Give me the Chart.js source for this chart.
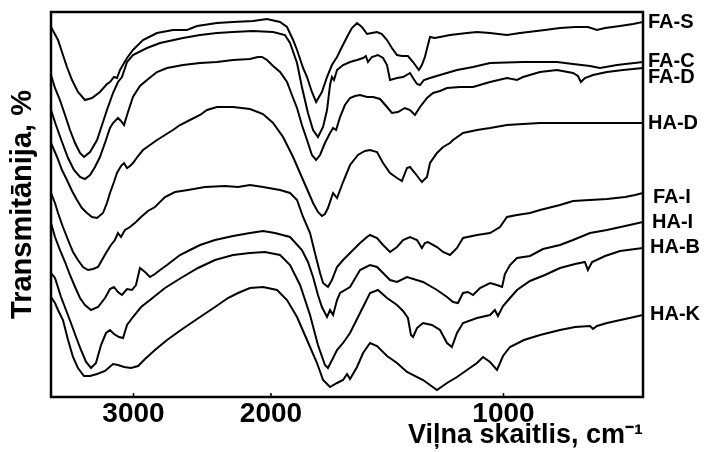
<!DOCTYPE html>
<html>
<head>
<meta charset="utf-8">
<title>IR spektri</title>
<script src="https://cdn.jsdelivr.net/npm/chart.js@4.4.1/dist/chart.umd.min.js"></script>
<style>
  body { margin: 0; background: #fff; }
  canvas { display: block; }
</style>
</head>
<body>
<canvas id="irChart" width="704" height="452"></canvas>
<script>
// spectra: [wavenumber cm-1, transmittance (arbitrary, stacked)]
const seriesNames = ["FA-S", "FA-C", "FA-D", "HA-D", "FA-I", "HA-I", "HA-B", "HA-K"];
const xTickValues = [3000, 2000, 1000];

const faS = [[3600,370],[3549,357],[3513,342],[3484,330],[3447,317],[3404,305],[3353,297],[3302,299],[3244,305],[3193,313],[3171,315],[3142,320],[3120,319],[3098,327],[3047,339],[3004,347],[2931,357],[2829,364],[2713,367],[2611,367],[2538,371],[2393,374],[2276,375],[2131,376],[2029,378],[1961,375],[1931,370],[1905,357],[1888,347],[1862,329],[1845,320],[1824,305],[1806,295],[1781,305],[1759,320],[1738,332],[1716,340],[1695,350],[1673,360],[1652,369],[1630,374],[1609,370],[1587,363],[1566,364],[1544,365],[1523,363],[1501,357],[1480,349],[1458,342],[1437,341],[1411,341],[1389,335],[1364,327],[1351,332],[1338,340],[1325,352],[1316,360],[1295,359],[1273,360],[1230,362],[1157,364],[1114,365],[1058,364],[985,362],[929,364],[822,367],[757,369],[692,370],[637,370],[598,367],[563,369],[499,371],[443,373],[400,375]];

const faC = [[3600,322],[3571,309],[3535,297],[3498,282],[3462,267],[3425,254],[3389,244],[3360,240],[3316,245],[3265,257],[3229,272],[3193,287],[3149,304],[3113,315],[3084,320],[3047,335],[3004,342],[2902,349],[2807,354],[2640,359],[2516,362],[2393,364],[2276,365],[2131,366],[1991,365],[1940,362],[1918,354],[1888,334],[1867,310],[1841,284],[1819,267],[1798,260],[1776,270],[1759,287],[1746,312],[1738,320],[1729,317],[1716,327],[1690,332],[1660,335],[1630,337],[1604,339],[1592,341],[1583,335],[1566,340],[1540,342],[1518,339],[1501,332],[1488,317],[1458,319],[1432,320],[1402,324],[1389,319],[1372,313],[1359,312],[1342,317],[1316,319],[1273,322],[1200,327],[1131,330],[1058,334],[916,335],[770,335],[701,333],[628,331],[585,329],[512,332],[400,335]];

const faD = [[3600,287],[3564,272],[3520,255],[3476,239],[3433,227],[3389,220],[3353,218],[3316,222],[3280,230],[3244,240],[3200,257],[3171,269],[3149,274],[3113,279],[3091,276],[3069,272],[3040,285],[3004,300],[2953,311],[2902,317],[2829,325],[2756,329],[2640,332],[2516,334],[2393,335],[2276,337],[2153,338],[2095,340],[2065,340],[2029,337],[1991,331],[1961,325],[1931,315],[1910,302],[1888,289],[1867,272],[1845,257],[1824,242],[1806,237],[1789,242],[1768,254],[1746,264],[1733,269],[1720,267],[1703,280],[1682,292],[1660,299],[1639,301],[1617,302],[1587,300],[1561,300],[1531,298],[1501,290],[1480,284],[1454,285],[1424,289],[1402,287],[1381,282],[1359,290],[1329,299],[1303,304],[1273,306],[1243,309],[1187,310],[1131,310],[1058,315],[985,319],[942,317],[916,320],[843,325],[770,327],[701,324],[680,321],[667,315],[650,319],[615,322],[555,325],[486,327],[400,329]];

const haD = [[3600,254],[3556,240],[3520,227],[3484,217],[3447,206],[3411,197],[3375,189],[3338,184],[3302,180],[3265,179],[3222,184],[3193,194],[3171,204],[3142,215],[3120,224],[3091,231],[3069,234],[3047,229],[3025,231],[3004,234],[2967,241],[2931,247],[2880,252],[2829,257],[2771,262],[2713,267],[2662,272],[2589,277],[2516,282],[2465,287],[2393,290],[2276,290],[2153,288],[2058,283],[1991,274],[1948,260],[1905,240],[1862,217],[1819,194],[1798,185],[1781,181],[1768,183],[1755,189],[1733,204],[1716,199],[1690,215],[1660,232],[1626,242],[1596,246],[1574,247],[1544,245],[1518,234],[1488,224],[1458,219],[1437,216],[1415,229],[1402,230],[1381,224],[1351,215],[1329,220],[1316,234],[1286,244],[1260,250],[1230,254],[1217,257],[1174,264],[1114,267],[1058,269],[985,272],[916,273],[843,274],[701,274],[555,274],[400,274]];

const faI = [[3600,204],[3571,194],[3549,184],[3513,170],[3476,157],[3440,145],[3404,137],[3367,130],[3331,127],[3294,128],[3258,130],[3229,137],[3200,144],[3164,152],[3135,157],[3113,164],[3091,160],[3062,167],[3025,170],[2982,175],[2945,180],[2895,186],[2844,190],[2771,200],[2698,205],[2604,207],[2480,210],[2335,211],[2240,210],[2153,212],[2058,210],[1961,207],[1918,204],[1888,197],[1862,180],[1832,164],[1811,144],[1789,124],[1776,114],[1755,110],[1738,117],[1716,130],[1690,137],[1660,144],[1617,154],[1587,160],[1574,162],[1544,159],[1518,152],[1488,145],[1458,150],[1432,157],[1402,160],[1372,157],[1351,149],[1338,154],[1325,155],[1286,150],[1260,145],[1230,142],[1200,149],[1174,159],[1114,162],[1058,164],[1015,170],[985,180],[942,182],[886,184],[843,187],[757,192],[701,196],[628,197],[555,198],[477,200],[434,202],[400,204]];

const haI = [[3600,174],[3571,160],[3535,147],[3498,135],[3462,122],[3425,110],[3389,99],[3353,92],[3309,87],[3258,90],[3207,99],[3171,108],[3142,110],[3113,105],[3084,102],[3047,108],[3011,107],[2982,112],[2953,129],[2916,125],[2880,120],[2844,123],[2807,127],[2756,132],[2662,142],[2589,147],[2516,152],[2407,157],[2276,161],[2153,164],[2058,166],[1983,164],[1918,160],[1867,147],[1841,135],[1819,120],[1798,102],[1781,90],[1759,80],[1746,87],[1733,82],[1716,97],[1703,104],[1660,110],[1617,127],[1574,132],[1544,130],[1518,124],[1488,117],[1458,115],[1415,120],[1346,115],[1286,107],[1243,100],[1217,95],[1196,94],[1174,104],[1153,105],[1131,102],[1101,109],[1058,114],[1028,112],[1006,110],[994,123],[972,132],[942,139],[886,141],[830,148],[757,152],[701,157],[628,164],[555,167],[477,171],[400,175]];

const haB = [[3600,124],[3571,119],[3527,100],[3491,87],[3455,74],[3418,60],[3382,47],[3345,35],[3309,29],[3273,34],[3236,52],[3200,64],[3171,67],[3142,63],[3105,60],[3076,59],[3047,72],[3004,80],[2945,90],[2880,97],[2771,109],[2655,119],[2531,129],[2407,137],[2276,142],[2153,144],[2044,145],[1961,142],[1918,132],[1875,112],[1832,82],[1798,52],[1768,32],[1755,29],[1733,39],[1716,47],[1690,54],[1660,64],[1617,84],[1574,104],[1540,107],[1501,99],[1458,92],[1432,86],[1411,79],[1398,62],[1389,60],[1372,69],[1346,74],[1308,72],[1273,67],[1243,54],[1222,50],[1200,64],[1174,74],[1114,79],[1058,82],[1037,87],[1024,81],[1002,91],[972,99],[942,107],[886,116],[822,122],[757,129],[692,133],[650,135],[637,127],[619,135],[563,141],[499,146],[400,149]];

const haK = [[3600,100],[3571,94],[3549,87],[3513,77],[3476,57],[3440,40],[3404,29],[3360,21],[3316,21],[3265,23],[3207,26],[3149,33],[3113,32],[3069,30],[3018,29],[2967,31],[2916,38],[2844,47],[2756,57],[2655,67],[2516,80],[2407,90],[2313,99],[2240,104],[2153,109],[2058,110],[1974,107],[1931,97],[1888,80],[1845,57],[1802,34],[1776,17],[1746,10],[1716,14],[1690,17],[1673,23],[1660,18],[1630,30],[1604,44],[1574,54],[1544,51],[1501,41],[1458,34],[1415,25],[1346,17],[1286,7],[1243,14],[1200,20],[1157,27],[1114,34],[1088,40],[1058,35],[1028,27],[1002,41],[972,50],[912,57],[843,62],[757,67],[692,70],[628,71],[615,68],[598,71],[555,74],[477,78],[400,82]];

const spectra = [faS, faC, faD, haD, faI, haI, haB, haK];

// axis is compressed above 2000 cm-1 (3600..2000 takes ~37% of the width)
const WN_HIGH = 3600, WN_BREAK = 2000, WN_LOW = 400;
const BREAK_FRAC = 0.3716;

function wnToDecimal(w) {
  if (w >= WN_BREAK) return (WN_HIGH - w) / (WN_HIGH - WN_BREAK) * BREAK_FRAC;
  return BREAK_FRAC + (WN_BREAK - w) / (WN_BREAK - WN_LOW) * (1 - BREAK_FRAC);
}
function decimalToWn(d) {
  if (d <= BREAK_FRAC) return WN_HIGH - d / BREAK_FRAC * (WN_HIGH - WN_BREAK);
  return WN_BREAK - (d - BREAK_FRAC) / (1 - BREAK_FRAC) * (WN_BREAK - WN_LOW);
}

class WavenumberScale extends Chart.LinearScale {
  static id = 'wavenumber';
  static defaults = {};
  getPixelForValue(value) {
    return this.getPixelForDecimal(wnToDecimal(value));
  }
  getValueForPixel(pixel) {
    return decimalToWn(this.getDecimalForPixel(pixel));
  }
}
Chart.register(WavenumberScale);

// name nudges so close neighbours don't overlap at the right edge
const labelNudge = {
  "FA-C": [0, -1],
  "FA-D": [0, 9],
  "FA-I": [5, 4],
  "HA-I": [4, 0],
  "HA-B": [2, -1],
  "HA-K": [2, -1],
};

const framePlugin = {
  id: 'frame',
  afterDraw(chart) {
    const { ctx, chartArea: a } = chart;
    const x = chart.scales.x;
    ctx.save();
    ctx.strokeStyle = '#000';
    ctx.lineWidth = 2.5;
    ctx.strokeRect(a.left, a.top, a.right - a.left, a.bottom - a.top);
    ctx.lineWidth = 1.5;
    xTickValues.forEach(v => {
      const px = x.getPixelForValue(v);
      ctx.beginPath();
      ctx.moveTo(px, a.bottom);
      ctx.lineTo(px, a.bottom - 4);
      ctx.stroke();
    });
    ctx.restore();
  }
};

const seriesLabelPlugin = {
  id: 'seriesLabels',
  afterDatasetsDraw(chart) {
    const { ctx, chartArea } = chart;
    ctx.save();
    ctx.font = 'bold 20px "Liberation Sans", Arial, sans-serif';
    ctx.fillStyle = '#000';
    ctx.textBaseline = 'middle';
    ctx.textAlign = 'left';
    chart.data.datasets.forEach((ds, i) => {
      const pts = chart.getDatasetMeta(i).data;
      const last = pts[pts.length - 1];
      const nudge = labelNudge[ds.label] || [0, 0];
      ctx.fillText(ds.label, chartArea.right + 5 + nudge[0], last.y + nudge[1]);
    });
    ctx.restore();
  }
};

Chart.defaults.font.family = '"Liberation Sans", Arial, sans-serif';
Chart.defaults.color = '#000';

const ctx = document.getElementById("irChart").getContext("2d");
const irChart = new Chart(ctx, {
  type: "line",
  data: {
    datasets: seriesNames.map((name, i) => ({
      label: name,
      data: spectra[i].map(p => ({ x: p[0], y: p[1] })),
      borderColor: "#000",
      borderWidth: 2,
      pointRadius: 0,
      tension: 0,
      fill: false,
    })),
  },
  options: {
    responsive: false,
    animation: false,
    layout: { padding: { top: 12, right: 61, left: 0, bottom: 0 } },
    plugins: {
      legend: { display: false },
      tooltip: { enabled: false },
    },
    scales: {
      x: {
        type: "wavenumber",
        min: WN_LOW,
        max: WN_HIGH,
        afterBuildTicks: (scale) => {
          scale.ticks = xTickValues.map(v => ({ value: v }));
        },
        afterFit: (scale) => { scale.height = 55; },
        grid: { display: false, drawTicks: false },
        border: { display: false },
        ticks: {
          autoSkip: false,
          maxRotation: 0,
          padding: 0,
          font: { size: 28, weight: "bold" },
          callback: (v) => String(v),
        },
        title: {
          display: true,
          text: "Viļna skaitlis, cm⁻¹",
          align: "end",
          font: { size: 27, weight: "bold" },
          padding: { top: 0, bottom: 0 },
        },
      },
      y: {
        min: 0,
        max: 385,
        afterFit: (scale) => { scale.width = 51; },
        grid: { display: false },
        border: { display: false },
        ticks: { display: false },
        title: {
          display: true,
          text: "Transmitānija, %",
          font: { size: 29, weight: "bold" },
          padding: { top: 6, bottom: 0 },
        },
      },
    },
  },
  plugins: [framePlugin, seriesLabelPlugin],
});
</script>
</body>
</html>
